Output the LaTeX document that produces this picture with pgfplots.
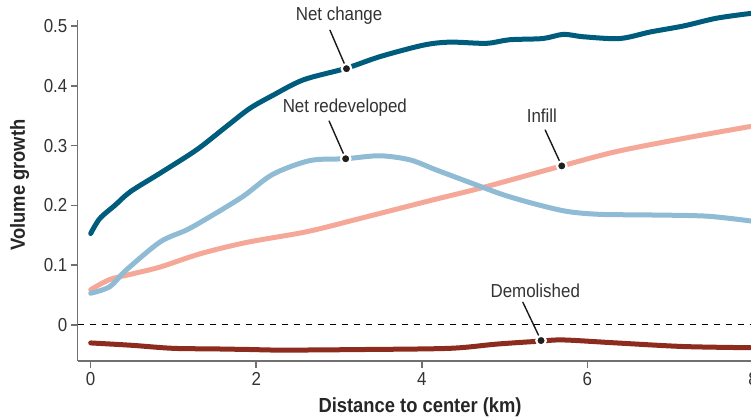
\documentclass[border=0pt]{standalone}
\usepackage{fontspec}
\setmainfont{Liberation Sans}[FakeStretch=0.9]
\usepackage{pgfplots}
\pgfplotsset{compat=1.18}
\definecolor{netc}{HTML}{005C7D}
\definecolor{netr}{HTML}{8FBCD4}
\definecolor{infill}{HTML}{F6A898}
\definecolor{demol}{HTML}{8E2B1F}
\definecolor{txt}{HTML}{333333}
\definecolor{axl}{HTML}{707070}
\begin{document}
\begin{tikzpicture}
\begin{axis}[
  name=ax,
  scale only axis,
  width=337.65pt, height=170.5pt,
  xmin=-0.157, xmax=8, ymin=-0.0602, ymax=0.51,
  axis x line=bottom, axis y line=left,
  axis line style={-, axl, line width=0.8pt},
  tick align=outside,
  major tick length=3.5pt,
  tick style={axl, line width=0.8pt},
  xtick={0,2,4,6,8}, xticklabels={0,2,4,6,8},
  ytick={0,0.1,0.2,0.3,0.4,0.5}, yticklabels={0,0.1,0.2,0.3,0.4,0.5},
  tick label style={font=\fontsize{9.4}{11}\selectfont, text=txt},
  yticklabel style={inner sep=1.5pt},
  xticklabel style={inner sep=2pt},
  xlabel={Distance to center (km)},
  ylabel={Volume growth},
  every axis x label/.style={at={(axis description cs:0.507,0)}, yshift=-23pt, anchor=center, font=\fontsize{10.2}{12}\selectfont\bfseries, text=black!85},
  every axis y label/.style={at={(axis description cs:0,0.516)}, xshift=-29pt, rotate=90, anchor=center, font=\fontsize{10.2}{12}\selectfont\bfseries, text=black!85},
  clip=false,
  every axis plot/.append style={line join=round, line cap=round},
]
% zero line
\addplot[black, dashed, line width=0.5pt, line cap=butt] coordinates {(-0.157,0) (8,0)};
% Demolished
\addplot[demol, line width=2.5pt, smooth] coordinates {
(0,-0.030) (0.5,-0.034) (0.99,-0.039) (1.5,-0.040) (1.92,-0.041) (2.33,-0.042) (3.3,-0.041) (4.34,-0.039) (4.9,-0.032) (5.43,-0.027) (5.71,-0.025) (6.35,-0.030) (7.16,-0.036) (7.97,-0.038)};
% Infill
\addplot[infill, line width=2.5pt, smooth] coordinates {
(0,0.059) (0.23,0.076) (0.52,0.086) (0.84,0.097) (1.32,0.119) (1.88,0.138) (2.61,0.156) (3.25,0.178) (4.1,0.208) (4.74,0.230) (5.69,0.266) (6.35,0.290) (7.16,0.312) (7.97,0.332)};
% Net redeveloped
\addplot[netr, line width=2.5pt, smooth] coordinates {
(0,0.053) (0.23,0.064) (0.43,0.092) (0.84,0.139) (1.16,0.159) (1.44,0.181) (1.84,0.215) (2.2,0.252) (2.65,0.275) (3.08,0.278) (3.49,0.283) (3.86,0.276) (4.18,0.259) (4.74,0.230) (5.0,0.217) (5.35,0.203) (5.75,0.190) (6.15,0.185) (6.75,0.184) (7.44,0.182) (7.97,0.174)};
% Net change
\addplot[netc, line width=2.5pt, smooth] coordinates {
(0,0.153) (0.11,0.178) (0.3,0.201) (0.48,0.223) (0.84,0.254) (1.28,0.293) (1.64,0.332) (1.92,0.362) (2.2,0.384) (2.57,0.410) (3.08,0.429) (3.5,0.449) (4.02,0.468) (4.34,0.473) (4.78,0.471) (5.06,0.477) (5.46,0.479) (5.71,0.486) (5.95,0.482) (6.39,0.479) (6.76,0.490) (7.16,0.500) (7.56,0.513) (7.97,0.521)};
% leader lines
\addplot[black!90, line width=0.7pt] coordinates {(2.89,0.493) (3.09,0.4286)};
\addplot[black!90, line width=0.7pt] coordinates {(2.88,0.341) (3.08,0.278)};
\addplot[black!90, line width=0.7pt] coordinates {(5.49,0.326) (5.69,0.266)};
\addplot[black!90, line width=0.7pt] coordinates {(5.22,0.038) (5.44,-0.026)};
% dots
\addplot[only marks, mark=*, mark size=2.4pt, mark options={fill=black!88, draw=white, line width=1.1pt}] coordinates {(3.09,0.4286) (3.08,0.278) (5.69,0.266) (5.44,-0.026)};
% labels
\node[font=\fontsize{9.4}{11}\selectfont, text=txt] at (axis cs:3.0,0.517) {Net change};
\node[font=\fontsize{9.4}{11}\selectfont, text=txt] at (axis cs:3.07,0.364) {Net redeveloped};
\node[font=\fontsize{9.4}{11}\selectfont, text=txt] at (axis cs:5.45,0.350) {Infill};
\node[font=\fontsize{9.4}{11}\selectfont, text=txt] at (axis cs:5.37,0.057) {Demolished};
\end{axis}
\pgfresetboundingbox
\path ([xshift=-38.85pt,yshift=-28pt]ax.south west) rectangle ([xshift=-1pt,yshift=10pt]ax.north east);
\end{tikzpicture}
\end{document}
